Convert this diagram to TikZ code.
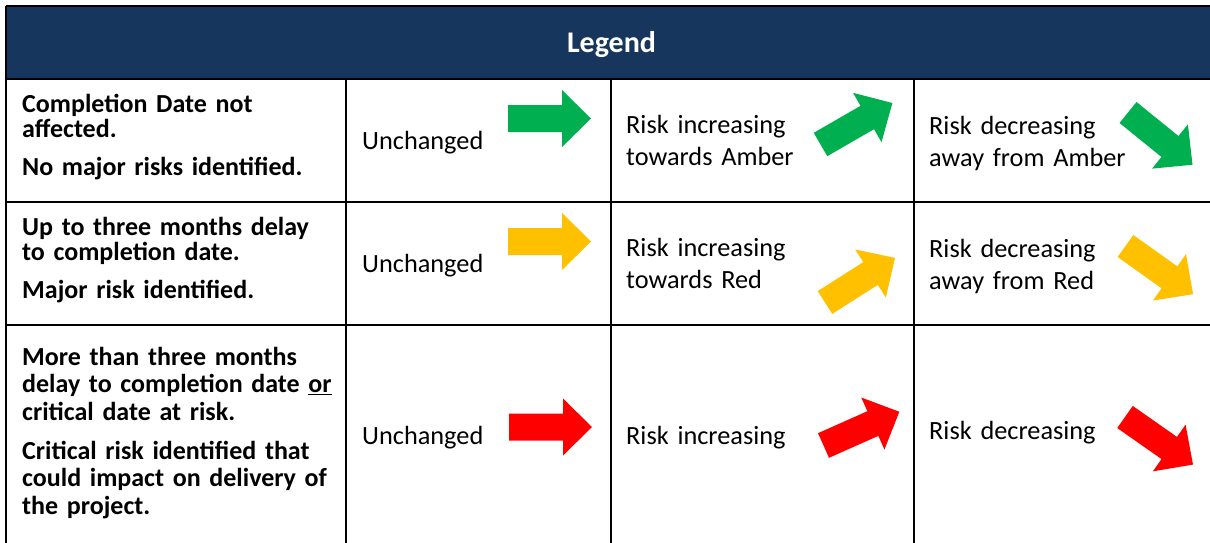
\documentclass[tikz,border=0pt]{standalone}
\usepackage{fontspec}
\setmainfont{Carlito}
\usepackage{tikz}
\definecolor{hdrblue}{HTML}{17365D}
\definecolor{rgGreen}{HTML}{00B050}
\definecolor{rgAmber}{HTML}{FFC000}
\definecolor{rgRed}{HTML}{FF0000}

\begin{document}
\begin{tikzpicture}[x=1pt,y=-1pt,
  grid/.style={line width=2.2pt,black},
  crit/.style={anchor=base west,inner sep=0pt,text width=330pt,align=left,font=\bfseries\fontsize{26}{25}\selectfont},
  desc/.style={anchor=base west,inner sep=0pt,text width=270pt,align=left,font=\fontsize{26.3}{32}\selectfont},
  pics/riskarrow/.style={code={\fill[#1] (0,-13.5) -- (54,-13.5) -- (54,-28.5) -- (83,0) -- (54,28.5) -- (54,13.5) -- (0,13.5) -- cycle;}}]
\useasboundingbox (0,0) rectangle (1210,543);
\clip (0,0) rectangle (1210,543);
\fill[white] (0,0) rectangle (1210,543);
\fill[hdrblue] (6,6) rectangle (1215,79);
\node[inner sep=0pt,anchor=base,text=white,font=\bfseries\fontsize{30}{30}\selectfont] (lgd) at (611.5,53) {Legend};
\draw[grid] (6,6) -- (1215,6);
\draw[grid] (6,6) -- (6,548);
\draw[grid] (6,79) -- (1215,79);
\draw[grid] (6,202) -- (1215,202);
\draw[grid] (6,325) -- (1215,325);
\draw[grid] (346,79) -- (346,548);
\draw[grid] (611,79) -- (611,548);
\draw[grid] (914,79) -- (914,548);

% row 1
\node[crit] (cA) at (22,112) {Completion Date not\\affected.\\[13pt]No major risks identified.};
\node[desc] (uA) at (362,149) {Unchanged};
\node[desc] (iA) at (626,133) {Risk increasing\\towards Amber};
\node[desc] (dA) at (929,134) {Risk decreasing\\away from Amber};
\pic at (508,118.5) {riskarrow=rgGreen};
\pic[rotate=30] at (820.5,144.5) {riskarrow=rgGreen};
\pic[rotate=-39] at (1128,112.5) {riskarrow=rgGreen};

% row 2
\node[crit] (cB) at (22,235) {Up to three months delay\\to completion date.\\[13pt]Major risk identified.};
\node[desc] (uB) at (362,272) {Unchanged};
\node[desc] (iB) at (626,256) {Risk increasing\\towards Red};
\node[desc] (dB) at (929,257) {Risk decreasing\\away from Red};
\pic at (508,241.5) {riskarrow=rgAmber};
\pic[rotate=32.5] at (825,302.5) {riskarrow=rgAmber};
\pic[rotate=-35.5] at (1125.5,246) {riskarrow=rgAmber};

% row 3
\node[crit,font=\bfseries\fontsize{26}{27.5}\selectfont] (cC) at (22,365) {More than three months\\delay to completion date \underline{or}\\critical date at risk.\\[11.5pt]Critical risk identified that\\could impact on delivery of\\the project.};
\node[desc] (uC) at (362,444) {Unchanged};
\node[desc] (iC) at (626,444) {Risk increasing};
\node[desc] (dC) at (929,439) {Risk decreasing};
\pic at (509,427) {riskarrow=rgRed};
\pic[rotate=24] at (823.5,445.5) {riskarrow=rgRed};
\pic[rotate=-35] at (1125,417) {riskarrow=rgRed};
\end{tikzpicture}
\end{document}
